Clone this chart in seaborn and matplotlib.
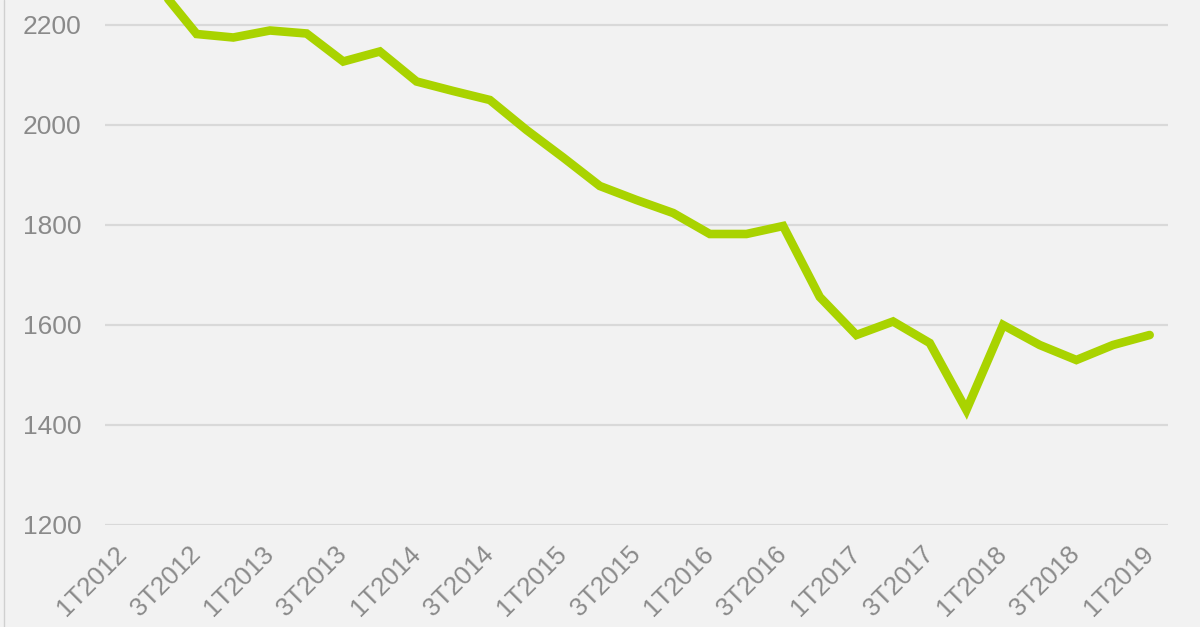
import matplotlib
matplotlib.use("Agg")
import matplotlib.pyplot as plt
import seaborn as sns
import pandas as pd
from matplotlib.lines import Line2D

quarters = ["1T2012", "2T2012", "3T2012", "4T2012",
            "1T2013", "2T2013", "3T2013", "4T2013",
            "1T2014", "2T2014", "3T2014", "4T2014",
            "1T2015", "2T2015", "3T2015", "4T2015",
            "1T2016", "2T2016", "3T2016", "4T2016",
            "1T2017", "2T2017", "3T2017", "4T2017",
            "1T2018", "2T2018", "3T2018", "4T2018",
            "1T2019"]
values = [2330, 2272, 2182, 2175,
          2189, 2183, 2127, 2147,
          2087, 2068, 2050, 1990,
          1935, 1878, 1850, 1824,
          1782, 1782, 1798, 1656,
          1580, 1607, 1564, 1430,
          1600, 1560, 1530, 1560,
          1580]
y_ticks = [1200, 1400, 1600, 1800, 2000, 2200]

df = pd.DataFrame({"q": range(len(quarters)), "v": values})

sns.set_theme(style="white")
plt.rcParams['font.family'] = ['Liberation Sans', 'DejaVu Sans']

fig = plt.figure(figsize=(12, 6.27), dpi=100, facecolor="#f2f2f2")
ax = fig.add_axes([105/1200, (627-525)/627, (1168-105)/1200, 525/627])
ax.set_facecolor("#f2f2f2")

sns.lineplot(data=df, x="q", y="v", ax=ax, color="#a9d300", linewidth=6.2,
             solid_joinstyle="miter", solid_capstyle="round")

ax.set_xlim(-0.5, len(quarters) - 0.5)
ax.set_ylim(1200, 2250)
ax.set_yticks(y_ticks)
ax.set_yticklabels([str(t) for t in y_ticks])
ax.yaxis.grid(True, color="#d9d9d9", linewidth=1.6)
ax.xaxis.grid(False)
ax.set_axisbelow(True)
for s in ax.spines.values():
    s.set_visible(False)

tick_pos = list(range(0, len(quarters), 2))
ax.set_xticks(tick_pos)
ax.set_xticklabels([quarters[i] for i in tick_pos], rotation=45, ha="right",
                   va="center", rotation_mode="anchor")
ax.tick_params(axis="x", length=0, pad=18, labelsize=18.5, labelcolor="#8a8a8a")
ax.tick_params(axis="y", length=0, pad=17, labelsize=19, labelcolor="#8a8a8a")
ax.set_xlabel("")
ax.set_ylabel("")

fig.add_artist(Line2D([0.003, 0.003], [0, 1], transform=fig.transFigure,
                      color="#d0d0d0", linewidth=1.0))

fig.savefig("out.png", dpi=100, facecolor=fig.get_facecolor())
